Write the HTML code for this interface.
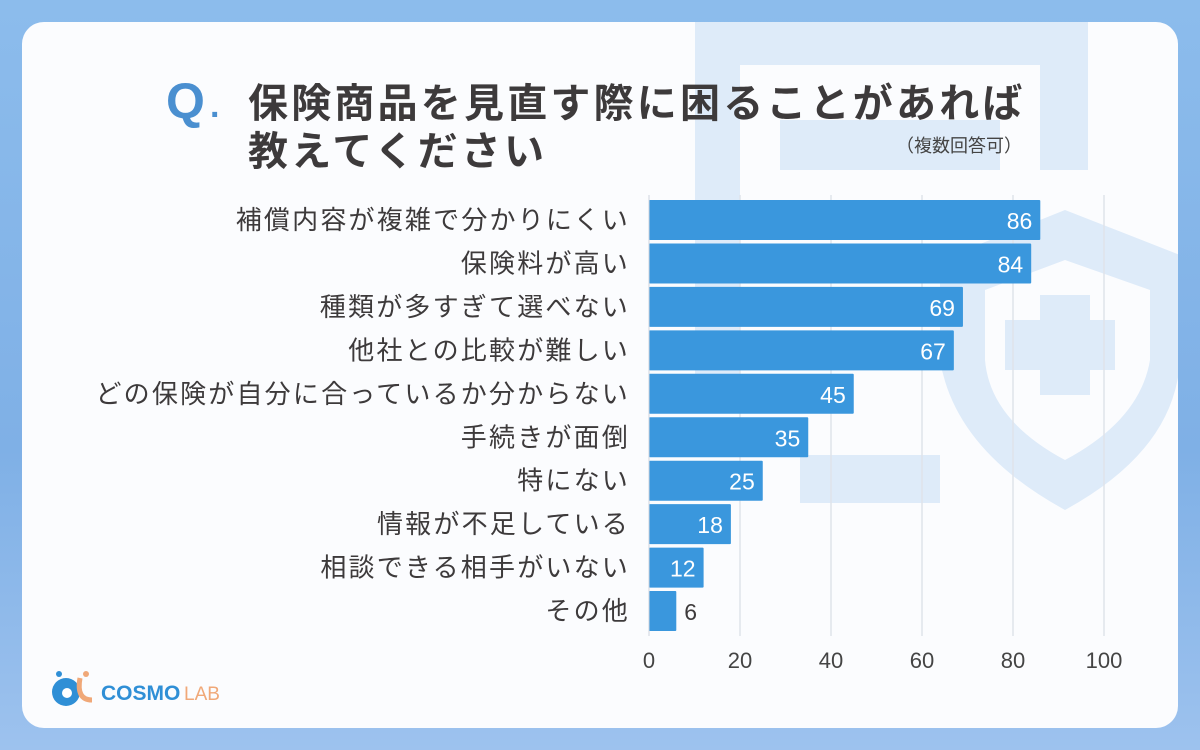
<!DOCTYPE html>
<html><head><meta charset="utf-8">
<style>
body{margin:0;width:1200px;height:750px;overflow:hidden;font-family:"Liberation Sans","Noto Sans CJK JP",sans-serif;}
#bg{position:absolute;left:0;top:0;width:1200px;height:750px;background:linear-gradient(180deg,#8cbcec,#7fb0e6 60%,#9dc2ee);}
#card{position:absolute;left:22px;top:22px;width:1156px;height:706px;background:#fbfcfe;border-radius:22px;overflow:hidden;}
</style></head><body>
<div id="bg"></div>
<div id="card">
<svg width="1156" height="706" style="position:absolute;left:0;top:0">
 <g fill="#deebf9" transform="translate(-22,-22)">
  <path d="M695 22 H1088 V170 H1040 V65 H740 V400 H695 Z"/>
  <rect x="780" y="120" width="220" height="50"/>
  <path d="M1065 210 L1180 255 V360 Q1175 450 1065 510 Q955 450 940 360 V260 Z M1065 260 L985 290 V360 Q990 420 1065 460 Q1140 420 1150 360 V290 Z" fill-rule="evenodd"/>
  <rect x="1040" y="295" width="50" height="100"/>
  <rect x="1005" y="320" width="110" height="50"/>
  <rect x="800" y="455" width="140" height="48"/>
 </g>
</svg>
<svg id="chart" width="1156" height="706" style="position:absolute;left:0;top:0"></svg>
</div>
<script>
const categories=["補償内容が複雑で分かりにくい","保険料が高い","種類が多すぎて選べない","他社との比較が難しい","どの保険が自分に合っているか分からない","手続きが面倒","特にない","情報が不足している","相談できる相手がいない","その他"];
const values=[86,84,69,67,45,35,25,18,12,6];
const ticks=[0,20,40,60,80,100];
const NS="http://www.w3.org/2000/svg";
const svg=document.getElementById('chart');
const ox=-22,oy=-22;
function x(v){return 649+v*4.55+ox;}
function y(i){return 200+i*43.45+oy;}
function mk(t,a,txt){const e=document.createElementNS(NS,t);for(const k in a)e.setAttribute(k,a[k]);if(txt!==undefined)e.textContent=txt;svg.appendChild(e);return e;}
ticks.forEach(t=>{
 if(t>0){const l=mk('line',{x1:x(t),x2:x(t),y1:195+oy,y2:636+oy,stroke:'#dfe3ea','stroke-width':1.5});
 
 }
 const tx=mk('text',{x:x(t),y:668+oy,'text-anchor':'middle','font-size':22,fill:'#444'},t);
 
 
});
const title=mk('text',{x:166+ox,y:118+oy,'font-size':50,'font-weight':'bold',fill:'#4a8fd0'},'Q');


const dot=mk('text',{x:210+ox,y:117+oy,'font-size':34,'font-weight':'bold',fill:'#4a8fd0'},'.');


const t1=mk('text',{x:248+ox,y:117+oy,'font-size':40,'font-weight':'bold',fill:'#3d3a3b','letter-spacing':3.2},'保険商品を見直す際に困ることがあれば');


const t2=mk('text',{x:248+ox,y:165+oy,'font-size':40,'font-weight':'bold',fill:'#3d3a3b','letter-spacing':3.2},'教えてください');


const sub=mk('text',{x:1022+ox,y:152+oy,'font-size':18,'text-anchor':'end',fill:'#444'},'（複数回答可）');


values.forEach((v,i)=>{
 const r=mk('rect',{x:x(0),y:y(i),width:x(v)-x(0),height:40,fill:'#3a97dd',rx:1});
 
 
 const lab=mk('text',{x:630+ox,y:y(i)+29,'text-anchor':'end','font-size':26,fill:'#3d3a3b','letter-spacing':2.2},categories[i]);
 
 
 const inside=v>=10;
 const vl=mk('text',{x:inside?x(v)-8:x(v)+8,y:y(i)+29,'text-anchor':inside?'end':'start','font-size':23,fill:inside?'#fff':'#3d3a3b'},v);
 
 
});
const ax=mk('line',{x1:x(0),x2:x(0),y1:195+oy,y2:636+oy,stroke:'#cfd5de','stroke-width':1});


const lg=mk('g',{});


lg.innerHTML='<circle cx="'+(66+ox)+'" cy="'+(692+oy)+'" r="14" fill="#2f8fd6"/><circle cx="'+(67+ox)+'" cy="'+(693+oy)+'" r="5" fill="#fff"/><circle cx="'+(59+ox)+'" cy="'+(674+oy)+'" r="3" fill="#2f8fd6"/><path d="M'+(80+ox)+' '+(678+oy)+' Q'+(76+ox)+' '+(700+oy)+' '+(92+ox)+' '+(700+oy)+'" stroke="#f0a878" stroke-width="5" fill="none"/><circle cx="'+(86+ox)+'" cy="'+(674+oy)+'" r="3" fill="#f0a878"/><text x="'+(101+ox)+'" y="'+(700+oy)+'" font-size="21" font-weight="bold" fill="#2f8fd6">COSMO</text><text x="'+(184+ox)+'" y="'+(700+oy)+'" font-size="19" fill="#f0a878">LAB</text>';
</script>
</body></html>
